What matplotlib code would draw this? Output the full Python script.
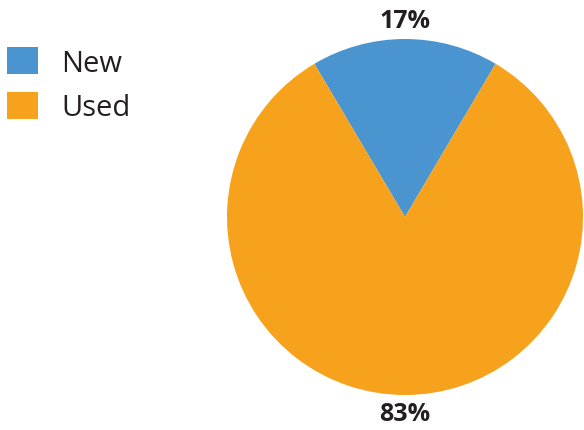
import matplotlib.pyplot as plt

categories = ['New', 'Used']
shares = [17, 83]
colours = ['#4a95d0', '#f6a21d']

plt.rcParams['font.family'] = ['Open Sans', 'DejaVu Sans']

W, H = 584, 431
fig = plt.figure(figsize=(W / 100, H / 100), dpi=100)

# pie axes: centre ~ (405, 218) px, radius ~ 178 px
cx, cy, r = 405, 218, 178
ax = fig.add_axes([(cx - r) / W, (H - cy - r) / H, 2 * r / W, 2 * r / H])

wedges, texts, autotexts = ax.pie(
    shares, colors=colours, startangle=90 - 360 * shares[0] / 200,
    autopct='%d%%', pctdistance=1.105, radius=1,
    textprops={'fontsize': 18, 'fontweight': 'bold', 'color': '#231f20'})
ax.set_xlim(-1, 1)
ax.set_ylim(-1, 1)
ax.set_aspect('equal')

fs = 21
fig.legend(wedges, categories, loc='upper left',
           bbox_to_anchor=(7 / W, 1 - 48 / H), borderaxespad=0, borderpad=0,
           frameon=False, fontsize=fs, handlelength=1.07, handleheight=1.07,
           handletextpad=0.8, labelspacing=0.48, labelcolor='#231f20')

fig.savefig('out.png', dpi=100)
